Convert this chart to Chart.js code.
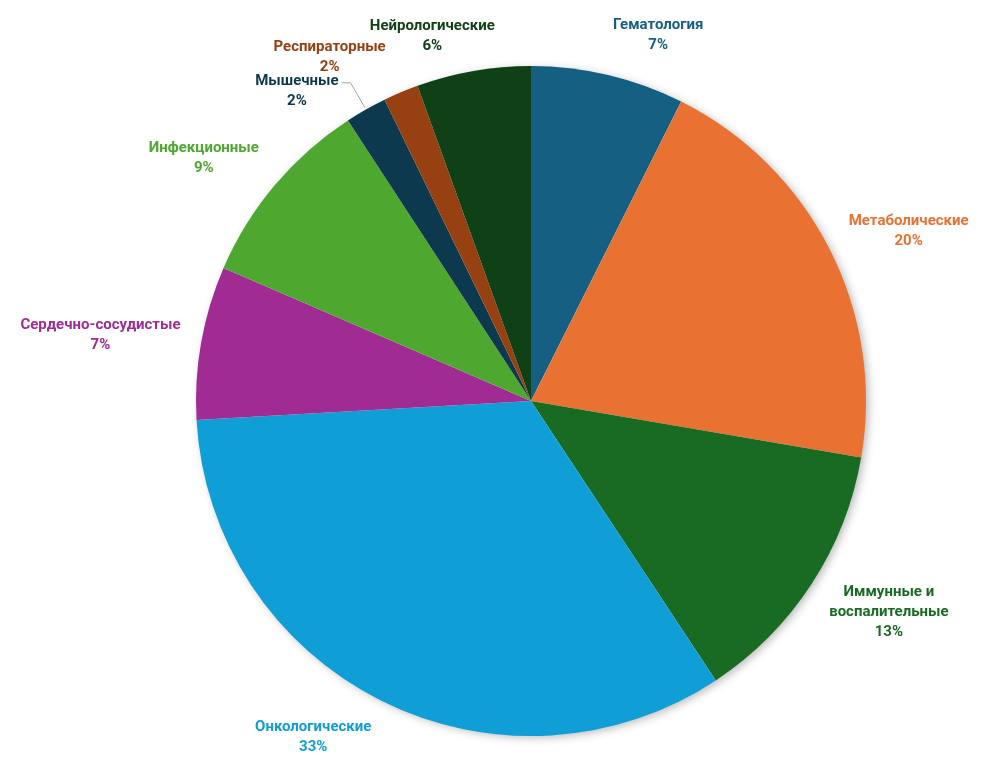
<!DOCTYPE html>
<html lang="ru">
<head>
<meta charset="utf-8">
<title>Распределение по терапевтическим областям</title>
<script src="https://cdn.jsdelivr.net/npm/chart.js@4.4.1/dist/chart.umd.min.js"></script>
<style>
	html, body { margin: 0; padding: 0; background: #ffffff; }
	#wrap { width: 1003px; height: 764px; position: relative; }
</style>
</head>
<body>
<div id="wrap"><canvas id="pieChart"></canvas></div>
<script>
// Categories (clockwise from 12 o'clock)
const categories = [
	["Гематология"],
	["Метаболические"],
	["Иммунные и", "воспалительные"],
	["Онкологические"],
	["Сердечно-сосудистые"],
	["Инфекционные"],
	["Мышечные"],
	["Респираторные"],
	["Нейрологические"],
];

// Shares (%)
const shares = [7.4, 20.3, 13.0, 33.4, 7.4, 9.3, 2.0, 1.7, 5.5];

// Office palette
const sliceColors = [
	"#156082",
	"#E97132",
	"#196B24",
	"#0F9ED5",
	"#A02B93",
	"#4EA72E",
	"#0D394F",
	"#974011",
	"#0F4016",
];

// Soft shadow behind the pie
const pieShadow = {
	id: "pieShadow",
	beforeDatasetsDraw(chart) {
		const arc = chart.getDatasetMeta(0).data[0];
		if (!arc) return;
		const ctx = chart.ctx;
		ctx.save();
		ctx.beginPath();
		ctx.arc(arc.x, arc.y, arc.outerRadius - 1, 0, Math.PI * 2);
		ctx.fillStyle = "#ffffff";
		ctx.shadowColor = "rgba(0, 0, 0, 0.3)";
		ctx.shadowBlur = 10;
		ctx.shadowOffsetX = 3;
		ctx.shadowOffsetY = 2;
		ctx.fill();
		ctx.restore();
	},
};

// Outside-end labels: box edge sits on the arc's mid angle horizontally, scaled vertically
const outsideLabels = {
	id: "outsideLabels",
	afterDatasetsDraw(chart, args, opts) {
		const ctx = chart.ctx;
		const meta = chart.getDatasetMeta(0);
		const values = chart.data.datasets[0].data;
		const total = values.reduce((s, v) => s + v, 0);
		const lineH = opts.lineHeight;

		ctx.save();
		ctx.font = opts.font;
		ctx.textAlign = "center";
		ctx.textBaseline = "middle";

		meta.data.forEach((arc, i) => {
			const mid = (arc.startAngle + arc.endAngle) / 2;
			const dx = Math.cos(mid);
			const dy = Math.sin(mid);
			const r = arc.outerRadius + opts.gap;
			const ax = arc.x + dx * r;
			const ay = arc.y + dy * r;

			const lines = categories[i].concat([Math.round(values[i] / total * 100) + "%"]);
			const w = Math.max(...lines.map((t) => ctx.measureText(t).width));
			const h = lines.length * lineH;

			let cx = dx >= 0 ? ax + w / 2 : ax - w / 2;
			let cy = ay + dy * h / 2;
			const shift = opts.shift[i];
			if (shift) {
				cx += shift[0];
				cy += shift[1];
			}
			const top = cy - h / 2;

			ctx.fillStyle = sliceColors[i];
			lines.forEach((t, k) => {
				ctx.fillText(t, cx, top + lineH / 2 + k * lineH);
			});

			// leader line for labels that were moved away from their slice
			if (opts.leaders.includes(i)) {
				const firstW = ctx.measureText(lines[0]).width;
				const sx = cx + firstW / 2 + 3;
				const sy = top + lineH / 2 + 2;
				ctx.strokeStyle = "#a6a6a6";
				ctx.lineWidth = 1;
				ctx.beginPath();
				ctx.moveTo(sx, sy);
				ctx.lineTo(sx + 9, sy);
				ctx.lineTo(arc.x + dx * (arc.outerRadius + 2), arc.y + dy * (arc.outerRadius + 2));
				ctx.stroke();
			}
		});
		ctx.restore();
	},
};

const chartConfig = {
	type: "pie",
	data: {
		labels: categories.map((c) => c.join(" ")),
		datasets: [
			{
				data: shares,
				backgroundColor: sliceColors,
				borderWidth: 0,
			},
		],
	},
	options: {
		responsive: true,
		maintainAspectRatio: false,
		animation: false,
		layout: {
			padding: { left: 196, right: 137, top: 66, bottom: 28 },
		},
		plugins: {
			legend: { display: false },
			tooltip: { enabled: false },
			outsideLabels: {
				font: "bold 15px Roboto",
				lineHeight: 20,
				gap: 21,
				shift: { 6: [-17, 17], 7: [-7, 3], 8: [25, 6] },
				leaders: [6],
			},
		},
	},
	plugins: [pieShadow, outsideLabels],
};

document.addEventListener("DOMContentLoaded", () => {
	const ctx = document.getElementById("pieChart");
	new Chart(ctx, chartConfig);
});
</script>
</body>
</html>
